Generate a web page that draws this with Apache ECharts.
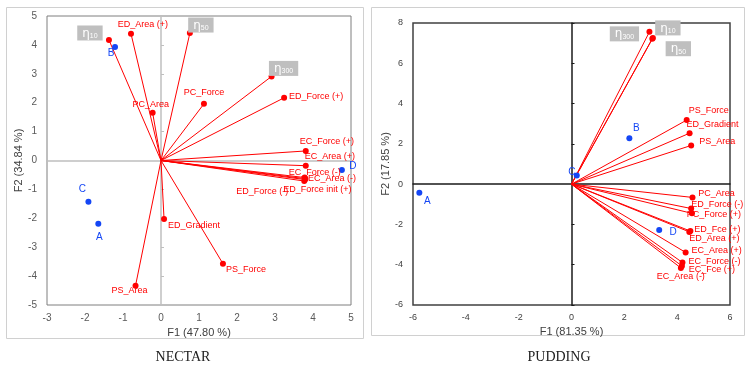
<!DOCTYPE html>
<html>
<head>
<meta charset="utf-8">
<script src="https://cdn.jsdelivr.net/npm/echarts@6/dist/echarts.min.js"></script>
<style>
  html, body { margin: 0; padding: 0; background: #fff; }
  #chart { width: 751px; height: 372px; }
</style>
</head>
<body>
<div id="chart"></div>
<script>
// NECTAR - variables (red vectors)
var nectarVarNames = ['η10', 'ED_Area (+)', 'η50', 'PC_Area', 'PC_Force', 'η300', 'ED_Force (+)',
    'EC_Force (+)', 'EC_Area (+)', 'EC_Force (-)', 'EC_Area (-)', 'ED_Force (-)', 'ED_Force init (+)',
    'ED_Gradient', 'PS_Force', 'PS_Area'];
var nectarVarF1 = [-1.37, -0.79, 0.76, -0.22, 1.13, 2.91, 3.24, 3.81, 3.81, 3.78, 3.79, 3.77, 3.80, 0.08, 1.63, -0.67];
var nectarVarF2 = [4.17, 4.39, 4.41, 1.65, 1.96, 2.91, 2.17, 0.33, -0.18, -0.59, -0.66, -0.71, -0.63, -2.02, -3.57, -4.33];
// NECTAR - observations (blue)
var nectarObsNames = ['A', 'B', 'C', 'D'];
var nectarObsF1 = [-1.65, -1.21, -1.91, 4.76];
var nectarObsF2 = [-2.19, 3.93, -1.43, -0.33];

// PUDDING - variables
var puddingVarNames = ['η300', 'η10', 'η50', 'PS_Force', 'ED_Gradient', 'PS_Area', 'PC_Area', 'ED_Force (-)',
    'PC_Force (+)', 'ED_Fce (+)', 'ED_Area (+)', 'EC_Area (+)', 'EC_Force (-)', 'EC_Fce (+)', 'EC_Area (-)'];
var puddingVarF1 = [2.95, 3.08, 3.06, 4.36, 4.47, 4.53, 4.58, 4.53, 4.56, 4.50, 4.46, 4.32, 4.20, 4.18, 4.14];
var puddingVarF2 = [7.56, 7.26, 7.22, 3.18, 2.53, 1.92, -0.66, -1.21, -1.45, -2.33, -2.37, -3.39, -3.89, -4.06, -4.16];
// PUDDING - observations
var puddingObsNames = ['A', 'B', 'C', 'D'];
var puddingObsF1 = [-5.76, 2.19, 0.20, 3.32];
var puddingObsF2 = [-0.43, 2.28, 0.43, -2.28];

// axis names / ticks
var nectarAxisNames = ['F1 (47.80 %)', 'F2 (34.84 %)'];
var puddingAxisNames = ['F1 (81.35 %)', 'F2 (17.85 %)'];
var nectarXTicks = [-3, 5, 1];
var nectarYTicks = [-5, 5, 1];
var puddingXTicks = [-6, 6, 2];
var puddingYTicks = [-6, 8, 2];

// label placement (pixel offsets from the point), kept apart from the data
var nectarVarOffset = {
    'η10': [-19, -7], 'ED_Area (+)': [12, -9], 'η50': [11, -8], 'PC_Area': [-2, -8], 'PC_Force': [0, -11],
    'η300': [12, -8], 'ED_Force (+)': [32, -1], 'EC_Force (+)': [21, -9], 'EC_Area (+)': [24, -9],
    'EC_Force (-)': [10, -5], 'EC_Area (-)': [27, -1], 'ED_Force (-)': [-42, 10], 'ED_Force init (+)': [12, 11],
    'ED_Gradient': [30, 7], 'PS_Force': [23, 6], 'PS_Area': [-6, 5]
};
var nectarObsOffset = { 'A': [1, 13], 'B': [-4, 6], 'C': [-6, -13], 'D': [11, -4] };
var puddingVarOffset = {
    'η300': [-25, 2], 'η10': [15, -10], 'η50': [26, 10], 'PS_Force': [22, -10], 'ED_Gradient': [23, -9],
    'PS_Area': [26, -4], 'PC_Area': [24, -4], 'ED_Force (-)': [26, -4], 'PC_Force (+)': [22, 1],
    'ED_Fce (+)': [27, -2], 'ED_Area (+)': [25, 7], 'EC_Area (+)': [31, -2], 'EC_Force (-)': [32, -1],
    'EC_Fce (+)': [30, 4], 'EC_Area (-)': [0, 9]
};
var puddingObsOffset = { 'A': [8, 8], 'B': [7, -10], 'C': [-5, -3], 'D': [14, 2] };

var RED = '#FF0000';
var BLUE = '#1446F5';
var FONT = 'Liberation Sans';

function isEta(name) { return name.charAt(0) === 'η'; }

function pointData(names, f1, f2, offsets) {
    return names.map(function (n, i) {
        var item = { name: n, value: [f1[i], f2[i]], label: { offset: offsets[n] || [0, 0] } };
        if (isEta(n)) {
            item.label.formatter = '{e|η}{s|' + n.slice(1) + '}';
            item.label.backgroundColor = '#BFBFBF';
            item.label.padding = [2, 5, 1, 5];
        }
        return item;
    });
}

function vectorData(f1, f2) {
    return f1.map(function (x, i) { return { coords: [[0, 0], [x, f2[i]]] }; });
}

function axesFor(gi, xt, yt, names, zeroColor, zeroWidth, labelColor, labelSize, nameGapX, nameGapY) {
    var xs = [{
        type: 'value', gridIndex: gi, min: xt[0], max: xt[1], interval: xt[2],
        name: names[0], nameLocation: 'middle', nameGap: nameGapX,
        nameTextStyle: { color: '#404040', fontSize: 11, fontFamily: FONT },
        axisLine: { show: false, onZero: false }, axisTick: { show: false },
        splitLine: { show: false },
        axisLabel: { color: labelColor, fontSize: labelSize, fontFamily: FONT, margin: 8 }
    }, {
        type: 'value', gridIndex: gi, min: xt[0], max: xt[1], interval: xt[2],
        axisLine: { show: true, onZero: true, lineStyle: { color: zeroColor, width: zeroWidth } },
        axisTick: { show: false }, axisLabel: { show: false }, splitLine: { show: false }
    }];
    var ys = [{
        type: 'value', gridIndex: gi, min: yt[0], max: yt[1], interval: yt[2], position: 'left',
        name: names[1], nameLocation: 'middle', nameGap: nameGapY, nameRotate: 90,
        nameTextStyle: { color: '#404040', fontSize: 11, fontFamily: FONT },
        axisLine: { show: false, onZero: false }, axisTick: { show: false },
        splitLine: { show: false },
        axisLabel: { color: labelColor, fontSize: labelSize, fontFamily: FONT, margin: 10 }
    }, {
        type: 'value', gridIndex: gi, min: yt[0], max: yt[1], interval: yt[2], position: 'left',
        axisLine: { show: true, onZero: true, lineStyle: { color: zeroColor, width: zeroWidth } },
        axisTick: { show: true, inside: true, length: 3, lineStyle: { color: zeroColor, width: 1 } },
        axisLabel: { show: false }, splitLine: { show: false }
    }];
    return { x: xs, y: ys };
}

var nAx = axesFor(0, nectarXTicks, nectarYTicks, nectarAxisNames, '#BFBFBF', 1.5, '#595959', 10, 20, 17);
var pAx = axesFor(1, puddingXTicks, puddingYTicks, puddingAxisNames, '#1a1a1a', 1.5, '#404040', 9, 20, 21);

var varLabel = {
    show: true, position: 'inside', align: 'center', verticalAlign: 'middle', formatter: '{b}',
    color: RED, fontSize: 9, fontFamily: FONT,
    rich: {
        e: { color: '#fff', fontSize: 12, fontFamily: 'DejaVu Sans' },
        s: { color: '#fff', fontSize: 7, fontFamily: FONT, verticalAlign: 'bottom', padding: [5, 0, 0, 0] }
    }
};
var obsLabel = {
    show: true, position: 'inside', align: 'center', verticalAlign: 'middle', formatter: '{b}',
    color: BLUE, fontSize: 10, fontFamily: FONT
};

function panelSeries(xi, yi, vNames, vF1, vF2, vOff, oNames, oF1, oF2, oOff) {
    return [{
        type: 'lines', coordinateSystem: 'cartesian2d', xAxisIndex: xi, yAxisIndex: yi,
        data: vectorData(vF1, vF2), symbol: ['none', 'none'], silent: true,
        lineStyle: { color: RED, width: 1, opacity: 1, curveness: 0 }, z: 2
    }, {
        type: 'scatter', xAxisIndex: xi, yAxisIndex: yi, symbolSize: 6,
        itemStyle: { color: BLUE, opacity: 1 }, label: obsLabel,
        data: pointData(oNames, oF1, oF2, oOff), z: 3
    }, {
        type: 'scatter', xAxisIndex: xi, yAxisIndex: yi, symbolSize: 6,
        itemStyle: { color: RED, opacity: 1 }, label: varLabel,
        data: pointData(vNames, vF1, vF2, vOff), z: 4
    }];
}

var myChart = echarts.init(document.getElementById('chart'), null, { renderer: 'canvas' });
var option = {
    animation: false,
    backgroundColor: '#fff',
    grid: [
        { left: 47, top: 16, width: 304, height: 289, show: true, borderColor: '#7F7F7F', borderWidth: 1 },
        { left: 413, top: 23, width: 317, height: 282, show: true, borderColor: '#404040', borderWidth: 1.5 }
    ],
    xAxis: nAx.x.concat(pAx.x),
    yAxis: nAx.y.concat(pAx.y),
    series: [].concat(
        panelSeries(1, 1, nectarVarNames, nectarVarF1, nectarVarF2, nectarVarOffset,
            nectarObsNames, nectarObsF1, nectarObsF2, nectarObsOffset),
        panelSeries(3, 3, puddingVarNames, puddingVarF1, puddingVarF2, puddingVarOffset,
            puddingObsNames, puddingObsF1, puddingObsF2, puddingObsOffset)
    ),
    graphic: [
        { type: 'rect', shape: { x: 6.5, y: 7.5, width: 357, height: 331 }, style: { fill: null, stroke: '#D0D0D0', lineWidth: 1 }, z: -1 },
        { type: 'rect', shape: { x: 371.5, y: 7.5, width: 373, height: 328 }, style: { fill: null, stroke: '#D0D0D0', lineWidth: 1 }, z: -1 },
        { type: 'text', x: 183, y: 357, style: { text: 'NECTAR', fill: '#222', font: '14px "Liberation Serif"', align: 'center', verticalAlign: 'middle' } },
        { type: 'text', x: 559, y: 357, style: { text: 'PUDDING', fill: '#222', font: '14px "Liberation Serif"', align: 'center', verticalAlign: 'middle' } }
    ]
};
myChart.setOption(option);
</script>
</body>
</html>
